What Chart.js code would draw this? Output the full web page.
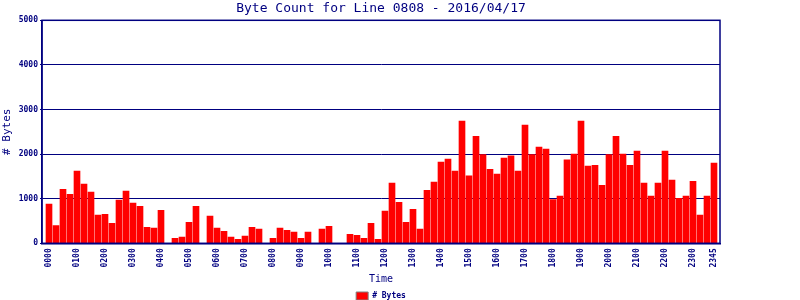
<!DOCTYPE html>
<html>
<head>
<meta charset="utf-8">
<script src="https://cdn.jsdelivr.net/npm/chart.js@4/dist/chart.umd.min.js"></script>
<style>
  html, body { margin: 0; padding: 0; background: #fff; }
  #wrap { width: 800px; height: 300px; }
</style>
</head>
<body>
<div id="wrap"><canvas id="chart"></canvas></div>
<script>
// Byte counts, one per 15 minutes
const hours = ['00', '01', '02', '03', '04', '05', '06', '07', '08', '09', '10', '11',
               '12', '13', '14', '15', '16', '17', '18', '19', '20', '21', '22', '23'];
const quarters = ['00', '15', '30', '45'];
const times = [];
hours.forEach(h => quarters.forEach(q => times.push(h + q)));

const bytes = [
    880, 400, 1210, 1100, 1620, 1330, 1150, 630, 650, 450,
    970, 1170, 900, 830, 360, 340, 740, 0, 110, 140,
    470, 830, 0, 610, 340, 270, 140, 90, 160, 360,
    320, 0, 110, 340, 290, 250, 110, 250, 0, 320,
    380, 0, 0, 200, 180, 110, 450, 90, 720, 1350,
    920, 470, 760, 320, 1190, 1370, 1820, 1890, 1620, 2740,
    1510, 2400, 1990, 1660, 1550, 1910, 1960, 1620, 2650, 1990,
    2160, 2110, 980, 1060, 1870, 2000, 2740, 1730, 1750, 1300,
    1990, 2400, 2000, 1750, 2070, 1350, 1060, 1350, 2070, 1420,
    1010, 1060, 1390, 630, 1060, 1800
];

// hourly ticks plus the last slot
const xTickIdx = [0, 4, 8, 12, 16, 20, 24, 28, 32, 36, 40, 44,
                  48, 52, 56, 60, 64, 68, 72, 76, 80, 84, 88, 92, 95];
const yTicks = [0, 1000, 2000, 3000, 4000, 5000];

const navy = '#000080';
const mono = 'DejaVu Sans Mono';

// box around the plot
const framePlugin = {
    id: 'frame',
    afterDraw(chart) {
        const { ctx, chartArea: a } = chart;
        ctx.save();
        ctx.strokeStyle = navy;
        ctx.lineWidth = 1.5;
        ctx.strokeRect(a.left, a.top, a.right - a.left, a.bottom - a.top);
        ctx.restore();
    }
};

new Chart(document.getElementById('chart'), {
    type: 'bar',
    data: {
        datasets: [{
            label: '# Bytes',
            data: bytes.map((v, i) => ({ x: i, y: v })),
            backgroundColor: '#ff0000',
            borderWidth: 0,
            barThickness: 6
        }]
    },
    options: {
        responsive: true,
        maintainAspectRatio: false,
        animation: false,
        devicePixelRatio: 1,
        layout: { padding: { left: 0, right: 38, top: 0, bottom: -10 } },
        plugins: {
            tooltip: { enabled: false },
            title: {
                display: true,
                text: 'Byte Count for Line 0808 - 2016/04/17',
                color: navy,
                font: { family: mono, size: 13, weight: 'normal', lineHeight: 1.2 },
                padding: { top: 1, bottom: 3.7 }
            },
            legend: {
                position: 'bottom',
                labels: {
                    color: navy,
                    font: { family: mono, size: 8, weight: 'bold' },
                    boxWidth: 12,
                    boxHeight: 8,
                    padding: 2,
                    generateLabels: chart => chart.data.datasets.map((ds, i) => ({
                        text: ds.label,
                        fillStyle: '#ff0000',
                        strokeStyle: '#808080',
                        lineWidth: 1,
                        fontColor: navy,
                        datasetIndex: i
                    }))
                }
            }
        },
        scales: {
            x: {
                type: 'linear',
                offset: false,
                min: -1,
                max: 95.857,
                afterBuildTicks: scale => { scale.ticks = xTickIdx.map(v => ({ value: v })); },
                afterFit: scale => { scale.height = 46.7; },
                grid: { display: false, drawTicks: false },
                border: { color: navy, width: 1.5 },
                ticks: {
                    autoSkip: false,
                    minRotation: 90,
                    maxRotation: 90,
                    padding: 5,
                    color: navy,
                    font: { family: mono, size: 8, weight: 'bold' },
                    callback: v => times[v]
                },
                title: {
                    display: true,
                    text: 'Time',
                    color: navy,
                    font: { family: mono, size: 10 },
                    padding: { top: 0, bottom: 5 }
                }
            },
            y: {
                min: 0,
                max: 5000,
                afterBuildTicks: scale => { scale.ticks = yTicks.map(v => ({ value: v })); },
                afterFit: scale => { scale.width = 42; },
                grid: { color: navy, lineWidth: 1, tickLength: 2 },
                border: { color: navy, width: 1.5 },
                ticks: {
                    padding: 2,
                    color: navy,
                    font: { family: mono, size: 8, weight: 'bold' },
                    callback: v => String(v)
                },
                title: {
                    display: true,
                    text: '# Bytes',
                    color: navy,
                    font: { family: mono, size: 11 },
                    padding: { top: 1, bottom: 0 }
                }
            },
            // empty right-hand strip so the title centres over the plot
            yRight: {
                position: 'right',
                display: true,
                afterFit: scale => { scale.width = 42; },
                grid: { display: false },
                border: { display: false },
                ticks: { display: false }
            }
        }
    },
    plugins: [framePlugin]
});
</script>
</body>
</html>
